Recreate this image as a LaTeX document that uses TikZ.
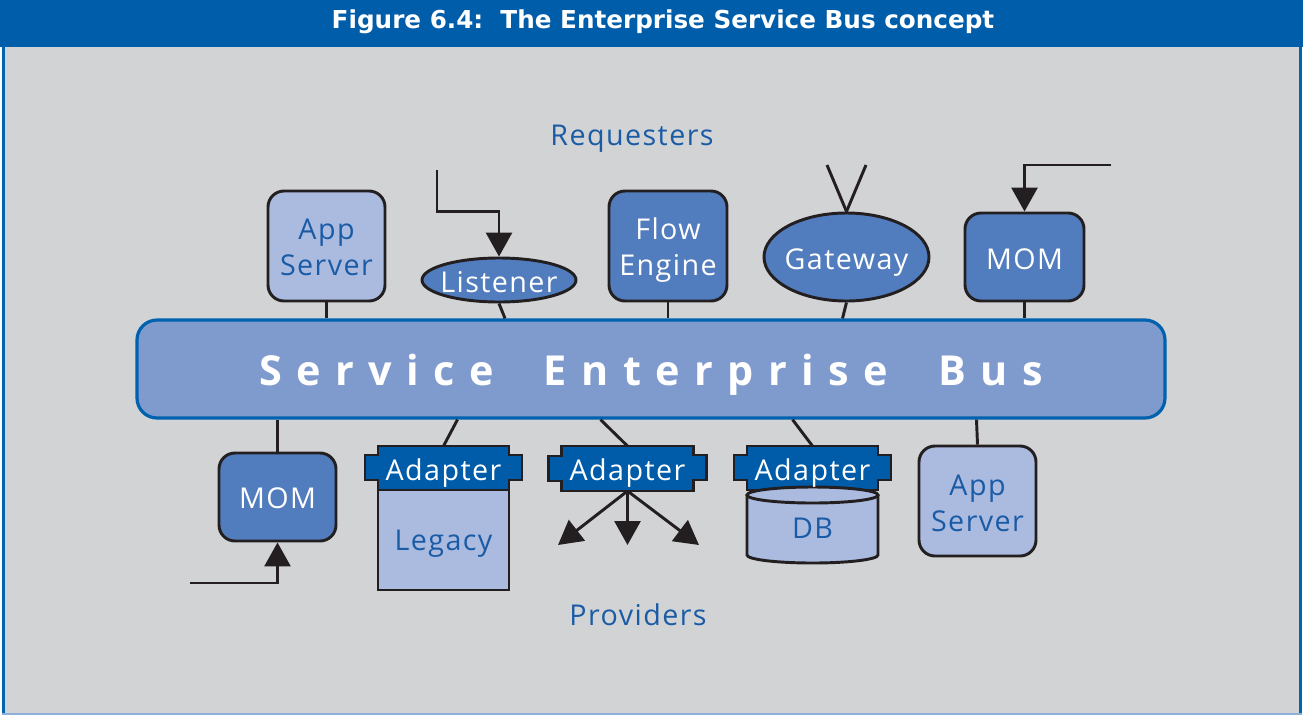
\documentclass[tikz,border=0pt]{standalone}
\usepackage{fontspec}
\setmainfont{Open Sans}
\newfontfamily\titlefont{DejaVu Sans}
\usetikzlibrary{arrows.meta,calc,shapes.geometric}
\pgfdeclarelayer{back}
\pgfdeclarelayer{shapes}
\pgfsetlayers{back,shapes,main}
\definecolor{hdr}{HTML}{005DAA}
\definecolor{stripe}{HTML}{0066B3}
\definecolor{bgray}{HTML}{D2D3D5}
\definecolor{lstripe}{HTML}{8DB0D8}
\definecolor{busfill}{HTML}{7F9BCE}
\definecolor{busline}{HTML}{0061AF}
\definecolor{darkn}{HTML}{517CBD}
\definecolor{lightn}{HTML}{ABBBE0}
\definecolor{adfill}{HTML}{005CA9}
\definecolor{tblue}{HTML}{1A5BA6}
\definecolor{linec}{HTML}{231F20}
\newcommand{\labf}{\fontsize{21.5}{27}\selectfont\addfontfeature{LetterSpace=5}}
\newcommand{\dn}[2]{\raisebox{-#1}[\height][\depth]{#2}}
\newcommand{\adpoly}[1]{%
  \draw[adstyle] (#1.north west) -- (#1.north east) -- ($(#1.north east)+(0,9)$) -- ++(13,0) -- ++(0,25) -- ++(-13,0) -- (#1.south east) -- (#1.south west) -- ++(0,-10) -- ++(-13,0) -- ++(0,-25) -- ++(13,0) -- cycle;}
\begin{document}
\begin{tikzpicture}[x=0.75pt,y=-0.75pt,
  conn/.style={draw=linec, line width=2.2pt},
  arr/.style={conn, -{Triangle[length=18pt,width=19.5pt]}},
  boxbase/.style={draw=linec, line width=2.2pt, rounded corners=12pt, font=\labf, align=center, inner sep=0pt},
  darkbox/.style={boxbase, fill=darkn, text=white},
  lightbox/.style={boxbase, fill=lightn, text=tblue},
  darkell/.style={ellipse, draw=linec, line width=2.2pt, fill=darkn, text=white, font=\labf, inner xsep=-20pt, inner ysep=-10pt},
  adnode/.style={inner sep=0pt, outer sep=0pt, minimum width=98.25pt, minimum height=33pt, text=white, font=\labf},
  adstyle/.style={draw=linec, line width=2.2pt, fill=adfill},
  heading/.style={text=tblue, font=\labf}
]
\useasboundingbox (0,0) rectangle (1303,715);
\begin{pgfonlayer}{back}
\fill[white] (0,0) rectangle (1303,715);
\fill[hdr] (0,0) rectangle (1303,46.5);
\fill[bgray] (2,46.5) rectangle (1302,713);
\fill[stripe] (2,46.5) rectangle (5,713);
\fill[stripe] (1299,46.5) rectangle (1302,713);
\fill[lstripe] (2,713) rectangle (1302,715);
\end{pgfonlayer}

\node (title) at (663,22) [text=white, font=\titlefont\fontsize{18.5}{20}\selectfont\bfseries] {Figure 6.4:\ \ The Enterprise Service Bus concept};
\node (req) at (632,139) [heading] {Requesters};
\node (prov) at (638,615) [heading] {Providers};

% bus
\node (bus) at (651,369) [draw=busline, line width=2.4pt, fill=busfill, rounded corners=15pt,
  minimum width=771pt, minimum height=73.5pt, inner sep=0pt, text=white,
  font=\fontsize{31}{31}\selectfont\bfseries\addfontfeature{LetterSpace=35}] {\dn{4.5pt}{Service\ \ Enterprise\ \ Bus}};

% requesters
\node (appT) at (326.5,246) [lightbox, minimum width=87.75pt, minimum height=82.5pt] {\dn{1pt}{App}\\\dn{1pt}{Server}};
\node (lis) at (499,280) [darkell, minimum width=115.5pt, minimum height=33pt] {\dn{1.5pt}{Listener}};
\node (flow) at (668,246) [darkbox, minimum width=88.5pt, minimum height=82.5pt] {\dn{3pt}{Flow}\\\dn{3pt}{Engine}};
\node (gw) at (846.5,257) [darkell, minimum width=123.75pt, minimum height=66pt] {\dn{4.5pt}{Gateway}};
\node (momT) at (1024.5,257) [darkbox, minimum width=89.25pt, minimum height=66pt] {\dn{1.5pt}{MOM}};

% providers
\node (momB) at (277.5,497) [darkbox, minimum width=87.75pt, minimum height=66pt] {\dn{0.75pt}{MOM}};
\node (leg) at (443.5,540) [lightbox, rounded corners=0pt, minimum width=98.25pt, minimum height=75pt] {\dn{3pt}{Legacy}};
\node (ad1) at (443.5,468) [adnode] {\dn{3.5pt}{Adapter}};
\node (ad2) at (627.5,468.5) [adnode, minimum width=99pt, minimum height=33.75pt] {\dn{3.5pt}{Adapter}};
\node (ad3) at (812.5,468) [adnode] {\dn{3.5pt}{Adapter}};
\node (db) at (812.5,527) [text=tblue, font=\labf, inner sep=0pt, minimum width=98.25pt, minimum height=50pt] {\dn{0.75pt}{DB}};
\node (appB) at (977.5,501) [lightbox, minimum width=87.75pt, minimum height=82.5pt] {\dn{2pt}{App}\\\dn{2pt}{Server}};

\begin{pgfonlayer}{shapes}
\adpoly{ad1}
\adpoly{ad2}
\adpoly{ad3}
\path[fill=lightn, draw=linec, line width=2.2pt] (747,495) -- (747,555) arc[start angle=180, end angle=0, x radius=65.5, y radius=8] -- (878,495);
\draw[fill=lightn, draw=linec, line width=2.2pt] (812.5,495) ellipse [x radius=65.5, y radius=8];
\end{pgfonlayer}

% free ends
\coordinate (lin) at (437,170);
\coordinate (g1) at (827,165);
\coordinate (g2) at (866,165);
\coordinate (mtin) at (1111,165);
\coordinate (mbin) at (190,583);
\coordinate (o1) at (558,545);
\coordinate (o2) at (627.5,545);
\coordinate (o3) at (699,545);

% top connectors
\draw[conn] (appT.south) -- (appT.south |- bus.north);
\draw[conn] (lis.south) -- ($(lis.south |- bus.north)+(6,0)$);
\draw[conn] (flow.south) -- (flow.south |- bus.north);
\draw[conn] (gw.south) -- ($(gw.south |- bus.north)+(-4,0)$);
\draw[conn] (momT.south) -- (momT.south |- bus.north);
% bottom connectors
\draw[conn] (momB.north) -- (momB.north |- bus.south);
\draw[conn] (ad1.north) -- ($(ad1.north |- bus.south)+(14,0)$);
\draw[conn] (ad2.north) -- ($(ad2.north |- bus.south)+(-27,0)$);
\draw[conn] (ad3.north) -- ($(ad3.north |- bus.south)+(-20,0)$);
\draw[conn] (appB.north) -- ($(appB.north |- bus.south)+(-1,0)$);

% inputs
\draw[arr] (lin) |- ([yshift=33.75pt]lis.north) -- (lis.north);
\draw[conn] (g1) -- (gw.north);
\draw[conn] (g2) -- (gw.north);
\draw[arr] (mtin) -| (momT.north);
\draw[arr] (mbin) -| (momB.south);
\draw[arr] (ad2.south) -- (o1);
\draw[arr] (ad2.south) -- (o2);
\draw[arr] (ad2.south) -- (o3);
\end{tikzpicture}
\end{document}
